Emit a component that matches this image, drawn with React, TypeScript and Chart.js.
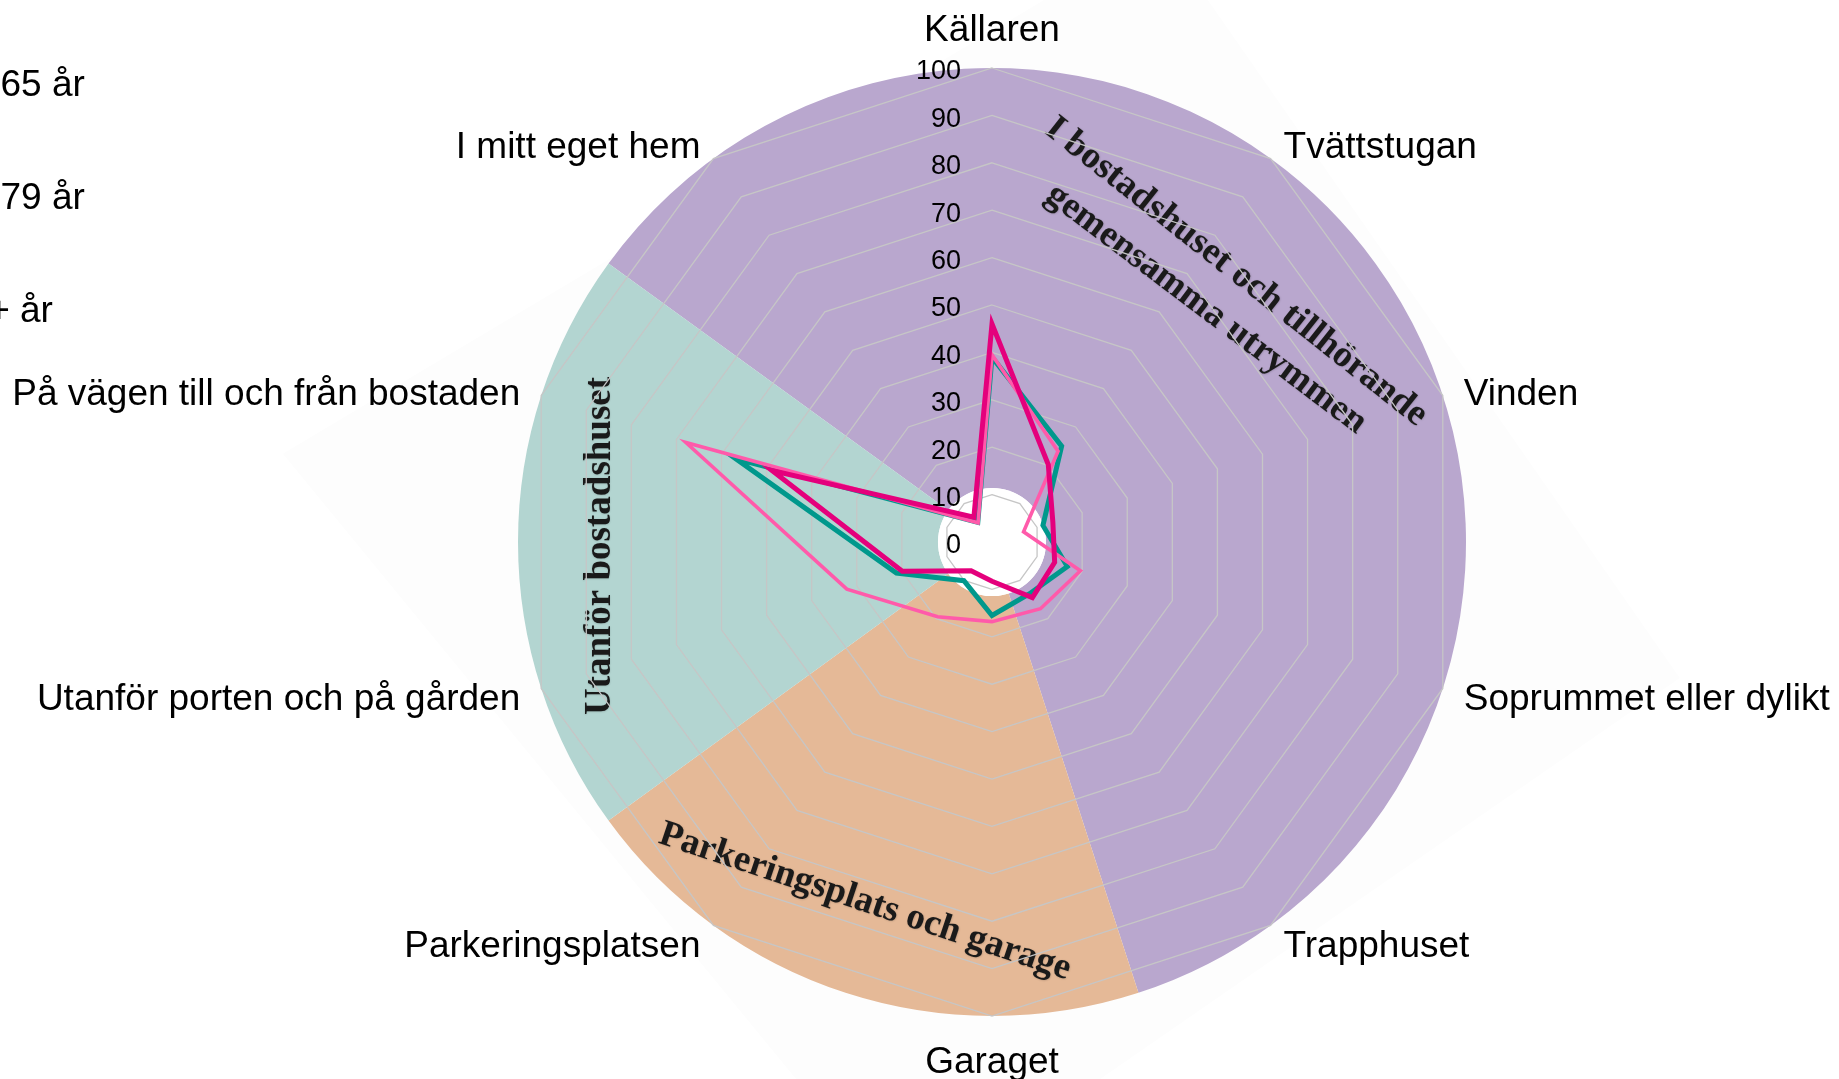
import React, { useEffect, useRef } from "react";
import { Chart, registerables } from "chart.js";

Chart.register(...registerables);

// ---------- data ----------
const categories = [
  "Källaren",
  "Tvättstugan",
  "Vinden",
  "Soprummet eller dylikt",
  "Trapphuset",
  "Garaget",
  "Parkeringsplatsen",
  "Utanför porten och på gården",
  "På vägen till och från bostaden",
  "I mitt eget hem",
];

const seriesLabels = ["16-65 år", "66-79 år", "80+ år"];
const values16to65 = [39, 25, 11.3, 16.7, 13.5, 15.5, 10.1, 21.2, 56.8, 5.1];
const values66to79 = [39.5, 23.7, 7, 19.6, 17.4, 16.8, 19.5, 32.2, 67.9, 5];
const values80plus = [46, 20.2, 13.5, 13.9, 14.5, 8.3, 7.5, 19.9, 48.8, 6.5];

const tickValues = [0, 10, 20, 30, 40, 50, 60, 70, 80, 90, 100];

// background zones (counted in categories, starting at "I mitt eget hem")
const zoneNames = ["I bostadshuset och tillhörande gemensamma utrymmen", "Parkeringsplats och garage", "Utanför bostadshuset"];
const zoneSizes = [6, 2, 2];

// ---------- styles ----------
const W = 1839;
const H = 1079;
const PAD = { left: 518, right: 373, top: 68, bottom: 63 };
const zoneColors = ["#B9A7CE", "#E5B997", "#B3D5D1"];
const seriesColors = ["#00988C", "#FF5AAA", "#E4007C"];
const seriesWidths = [5, 3.6, 5];
const SANS = '"Liberation Sans", Arial, sans-serif';
const SERIF = '"Liberation Serif", "Times New Roman", serif';

// zone titles: offsets from centre in px, rotation deg
const zoneTitles = [
  { text: "I bostadshuset och tillhörande", dx: 244, dy: -270, rot: 38.3 },
  { text: "gemensamma utrymmen", dx: 214, dy: -233, rot: 37 },
  { text: "Parkeringsplats och garage", dx: -127, dy: 360, rot: 18.5 },
  { text: "Utanför bostadshuset", dx: -392, dy: 4, rot: -90 },
];

const backgroundPlugin = {
  id: "bgShape",
  beforeDatasetsDraw(chart: any) {
    const a = chart.chartArea;
    const cx = (a.left + a.right) / 2;
    const cy = (a.top + a.bottom) / 2;
    const R = (a.right - a.left) / 2;
    const pts = [
      [-1.496, -0.186],
      [0.354, -1.289],
      [1.451, 0.287],
      [-0.181, 1.416],
    ];
    const ctx = chart.ctx;
    ctx.save();
    ctx.fillStyle = "#FDFDFD";
    ctx.beginPath();
    pts.forEach(([px, py], i) => {
      const x = cx + px * R;
      const y = cy + py * R;
      if (i === 0) ctx.moveTo(x, y);
      else ctx.lineTo(x, y);
    });
    ctx.closePath();
    ctx.fill();
    ctx.restore();
  },
  afterDatasetsDraw(chart: any) {
    const arc = chart.getDatasetMeta(0).data[0];
    const ctx = chart.ctx;
    ctx.save();
    ctx.fillStyle = "#FFFFFF";
    ctx.beginPath();
    ctx.arc(arc.x, arc.y, arc.innerRadius, 0, Math.PI * 2);
    ctx.fill();
    // zone titles
    ctx.font = `bold 37px ${SERIF}`;
    ctx.fillStyle = "#1A1A1A";
    ctx.textAlign = "center";
    ctx.textBaseline = "middle";
    ctx.shadowColor = "rgba(0,0,0,0.2)";
    ctx.shadowBlur = 2;
    ctx.shadowOffsetX = 0.5;
    ctx.shadowOffsetY = 0.5;
    zoneTitles.forEach((t) => {
      ctx.save();
      ctx.translate(arc.x + t.dx, arc.y + t.dy);
      ctx.rotate((t.rot * Math.PI) / 180);
      ctx.fillText(t.text, 0, 0);
      ctx.restore();
    });
    ctx.restore();
  },
};

const labelPlugin = {
  id: "radarLabels",
  beforeDatasetsDraw(chart: any) {
    const s = chart.scales.r;
    const ctx = chart.ctx;
    ctx.save();
    ctx.font = `27px ${SANS}`;
    ctx.fillStyle = "#000";
    ctx.textAlign = "right";
    ctx.textBaseline = "middle";
    tickValues.forEach((v) => {
      const d = s.getDistanceFromCenterForValue(v);
      ctx.fillText(String(v), s.xCenter - 31, s.yCenter - d + 4);
    });
    ctx.restore();
  },
  afterDraw(chart: any) {
    const s = chart.scales.r;
    const ctx = chart.ctx;
    ctx.save();
    ctx.font = `37px ${SANS}`;
    ctx.fillStyle = "#000";
    const n = categories.length;
    categories.forEach((c, i) => {
      const p = s.getPointPosition(i, s.drawingArea + 22);
      const deg = (360 / n) * i;
      const x = p.x;
      let y = p.y;
      let align: CanvasTextAlign = "left";
      let base: CanvasTextBaseline = "middle";
      if (deg === 0) {
        align = "center";
        base = "alphabetic";
        y = p.y - 5;
      } else if (deg === 180) {
        align = "center";
        base = "top";
        y = p.y + 6;
      } else if (deg > 180) {
        align = "right";
      }
      if (base === "middle") y += 4.9 + 2.3 * Math.cos((deg * Math.PI) / 180);
      ctx.textAlign = align;
      ctx.textBaseline = base;
      ctx.fillText(c, x, y);
    });
    // legend (partly outside the picture on the left)
    ctx.textAlign = "left";
    ctx.textBaseline = "middle";
    const rows = [85.5, 198.5, 311.5];
    chart.data.datasets.forEach((ds: any, i: number) => {
      ctx.fillText(ds.label, -53, rows[i]);
    });
    ctx.restore();
  },
};

export default function App() {
  const bgRef = useRef<HTMLCanvasElement | null>(null);
  const fgRef = useRef<HTMLCanvasElement | null>(null);

  useEffect(() => {
    if (!bgRef.current || !fgRef.current) return;
    const step = 360 / categories.length;
    const bg = new Chart(bgRef.current, {
      type: "doughnut",
      data: {
        labels: zoneNames,
        datasets: [
          {
            data: zoneSizes,
            backgroundColor: zoneColors,
            borderWidth: 0,
          },
        ],
      },
      options: {
        responsive: false,
        animation: false,
        cutout: "11.4%",
        rotation: -step * 1.5,
        layout: { padding: PAD },
        plugins: { legend: { display: false }, tooltip: { enabled: false } },
        events: [],
      },
      plugins: [backgroundPlugin],
    } as any);

    const fg = new Chart(fgRef.current, {
      type: "radar",
      data: {
        labels: categories,
        datasets: [
          {
            label: seriesLabels[0],
            data: values16to65,
            borderColor: seriesColors[0],
            borderWidth: seriesWidths[0],
            pointRadius: 0,
            fill: false,
            order: 2,
          },
          {
            label: seriesLabels[1],
            data: values66to79,
            borderColor: seriesColors[1],
            borderWidth: seriesWidths[1],
            pointRadius: 0,
            fill: false,
            order: 1,
          },
          {
            label: seriesLabels[2],
            data: values80plus,
            borderColor: seriesColors[2],
            borderWidth: seriesWidths[2],
            pointRadius: 0,
            fill: false,
            order: 0,
          },
        ],
      },
      options: {
        responsive: false,
        animation: false,
        layout: { padding: PAD },
        elements: { line: { tension: 0, borderJoinStyle: "miter" } },
        scales: {
          r: {
            min: tickValues[0],
            max: tickValues[tickValues.length - 1],
            beginAtZero: true,
            ticks: { display: false, stepSize: 10 },
            grid: { color: "#C6C6C6", lineWidth: 1.3, circular: false },
            angleLines: { display: false },
            pointLabels: { display: false },
          },
        },
        plugins: { legend: { display: false }, tooltip: { enabled: false } },
        events: [],
      },
      plugins: [labelPlugin],
    } as any);

    return () => {
      bg.destroy();
      fg.destroy();
    };
  }, []);

  const canvasStyle: React.CSSProperties = {
    position: "absolute",
    left: 0,
    top: 0,
    width: W,
    height: H,
  };

  return (
    <div style={{ position: "fixed", left: 0, top: 0, width: W, height: H, background: "#FFFFFF", overflow: "hidden" }}>
      <canvas ref={bgRef} width={W} height={H} style={canvasStyle} />
      <canvas ref={fgRef} width={W} height={H} style={canvasStyle} />
    </div>
  );
}
